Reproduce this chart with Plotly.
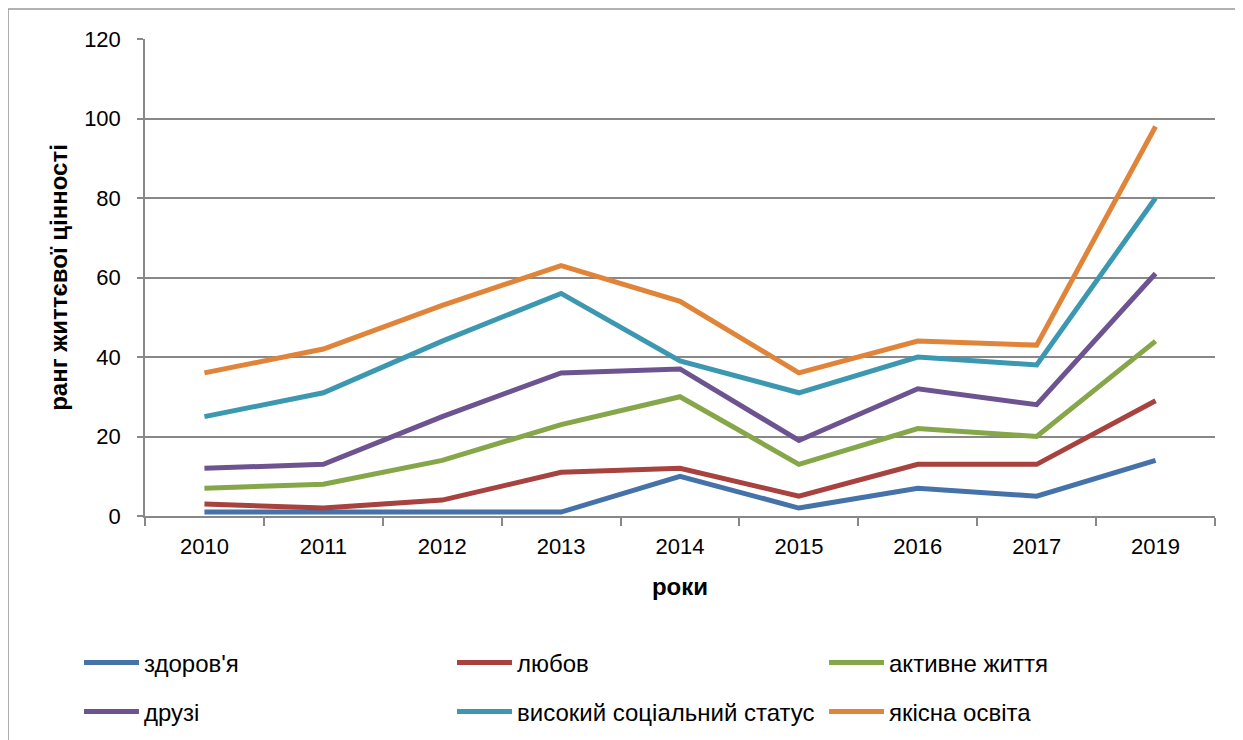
import plotly.graph_objects as go

# years on the category axis
years = ["2010", "2011", "2012", "2013", "2014", "2015", "2016", "2017", "2019"]

# plotted (stacked) positions
zdorovia = [1, 1, 1, 1, 10, 2, 7, 5, 14]
liubov = [3, 2, 4, 11, 12, 5, 13, 13, 29]
aktyvne = [7, 8, 14, 23, 30, 13, 22, 20, 44]
druzi = [12, 13, 25, 36, 37, 19, 32, 28, 61]
status = [25, 31, 44, 56, 39, 31, 40, 38, 80]
osvita = [36, 42, 53, 63, 54, 36, 44, 43, 98]

names = ["здоров'я", "любов", "активне життя", "друзі",
         "високий соціальний статус", "якісна освіта"]
series = [zdorovia, liubov, aktyvne, druzi, status, osvita]
colors = ["#4572a8", "#a7423f", "#86a64a", "#6d5490", "#3c98b1", "#e0843a"]

# one small legend per entry, laid out as 3 columns x 2 rows
legend_x = [-0.0617, 0.2869, 0.6346]
legend_y = [-0.3082, -0.4109]

fig = go.Figure()
for i, (name, vals, col) in enumerate(zip(names, series, colors)):
    lg = "legend" if i == 0 else f"legend{i + 1}"
    fig.add_trace(go.Scatter(
        x=years, y=vals, name=name, mode="lines",
        line=dict(color=col, width=5),
        legend=lg,
    ))

grid = "#888888"
legends = {}
for i in range(6):
    key = "legend" if i == 0 else f"legend{i + 1}"
    legends[key] = dict(
        orientation="h",
        x=legend_x[i % 3], y=legend_y[i // 3],
        xanchor="left", yanchor="middle",
        font=dict(family="Liberation Sans", size=24),
        itemwidth=55, bgcolor="rgba(0,0,0,0)",
    )

fig.update_layout(
    width=1243, height=740,
    margin=dict(l=137, r=36, t=31, b=232),
    paper_bgcolor="white", plot_bgcolor="white",
    font=dict(family="Liberation Sans", size=22, color="black"),
    showlegend=True,
    xaxis=dict(
        type="category", tickson="boundaries",
        ticks="outside", ticklen=8, tickcolor=grid, tickwidth=1.5,
        showline=True, linecolor=grid, linewidth=1.5,
        showgrid=False, range=[-0.5, 8.5],
        tickfont=dict(size=22), ticklabelstandoff=10,
        title=dict(text="<b>роки</b>", font=dict(size=24), standoff=20),
    ),
    yaxis=dict(
        range=[0, 120], dtick=20,
        ticks="outside", ticklen=6, tickcolor=grid, tickwidth=1.5,
        showline=True, linecolor=grid, linewidth=1.5,
        gridcolor=grid, gridwidth=1.5, zeroline=False,
        tickfont=dict(size=22), ticklabelstandoff=12,
        title=dict(text="<b>ранг життєвої цінності</b>", font=dict(size=24), standoff=10),
    ),
    shapes=[dict(
        type="rect", xref="paper", yref="paper",
        x0=-0.128, x1=1.0252, y0=-0.6, y1=1.0629,
        line=dict(color="#999999", width=1.5),
    )],
    **legends,
)

fig.write_html("out.html")
